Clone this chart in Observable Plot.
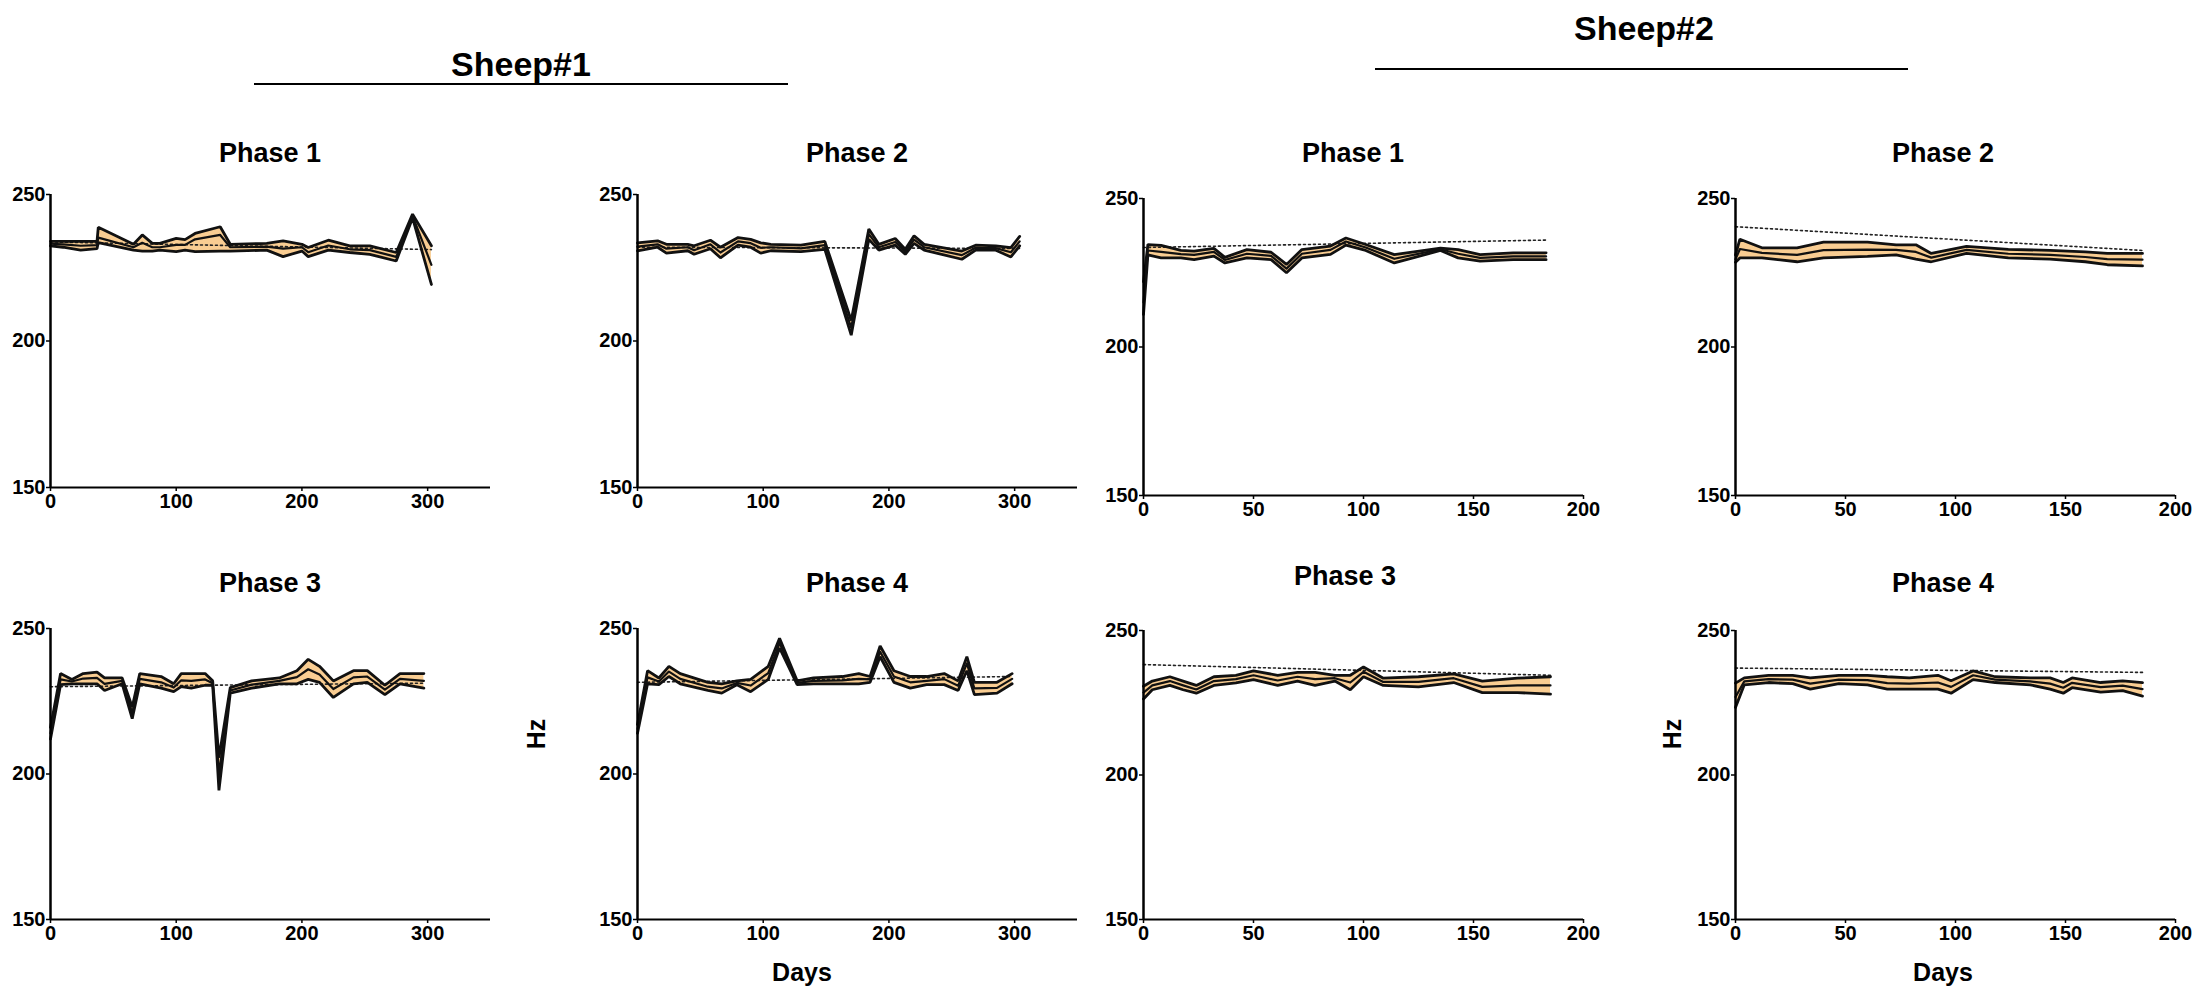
<!DOCTYPE html>
<html>
<head>
<meta charset="utf-8">
<script src="https://cdn.jsdelivr.net/npm/d3@7"></script>
<script src="https://cdn.jsdelivr.net/npm/@observablehq/plot@0.6"></script>
<style>
  html, body { margin: 0; padding: 0; background: #fff; }
  #root { position: relative; width: 2200px; height: 999px; overflow: hidden; font-family: "Liberation Sans", Arial, sans-serif; font-weight: bold; color: #000; }
  .lbl { position: absolute; white-space: nowrap; transform: translate(-50%, -50%); line-height: 1; }
  .hline { position: absolute; height: 2px; background: #000; }
  .panel { position: absolute; }
</style>
</head>
<body>
<div id="root"></div>
<script>
// ---------- DATA ----------
const sheep1Ticks = [0, 100, 200, 300];
const sheep2Ticks = [0, 50, 100, 150, 200];
const yTicks = [150, 200, 250];

// Sheep#1 Phase 1
const s1p1Days = [0, 10, 24, 37, 38, 66, 73, 81, 87, 100, 107, 115, 135, 143, 172, 185, 200, 205, 221, 238, 254, 275, 288, 303];
const s1p1Hi   = [234, 234, 234, 234, 238.8, 233, 236.2, 233.3, 233.3, 235, 234.6, 236.7, 239, 233, 233.3, 234.2, 233, 231.9, 234.4, 232.5, 232.5, 230.2, 243.3, 232.5];
const s1p1Mid  = [233.2, 233, 232.5, 232.7, 235.3, 232, 233.5, 232, 232, 232.8, 232.8, 234.7, 236.2, 232, 232.2, 231.5, 232, 230.3, 232.6, 231.3, 231, 228.7, 242.7, 226];
const s1p1Lo   = [232.5, 232, 231, 231.5, 233.6, 231, 230.7, 230.7, 231, 230.5, 231, 230.5, 230.7, 230.7, 231, 228.8, 230.7, 228.8, 231, 230.2, 229.6, 227.3, 242, 219.3];
const s1p1TrendDays = [0, 303];
const s1p1Trend = [233.8, 231.2];

// Sheep#1 Phase 2
const s1p2Days = [0, 16, 23, 40, 45, 58, 66, 80, 90, 98, 106, 130, 149, 170, 184, 192, 205, 213, 220, 228, 258, 269, 285, 297, 304];
const s1p2Hi   = [233.5, 234.2, 233, 233, 232.5, 234.4, 232, 235.3, 234.7, 233.5, 233, 232.7, 234, 207, 238.2, 233, 235, 231.3, 235.9, 233, 230.7, 232.7, 232.5, 231.9, 235.7];
const s1p2Mid  = [232.2, 233, 231.5, 232, 231, 233, 230.2, 234, 233.4, 231.8, 232, 231.6, 232.7, 204.5, 236.5, 232, 233.8, 230.5, 234.6, 232, 229.3, 231.8, 231.7, 230.3, 234];
const s1p2Lo   = [230.8, 232, 230, 230.8, 229.6, 231.5, 228.4, 232.7, 232, 230, 230.8, 230.5, 231.3, 202, 234.7, 231, 232.7, 229.6, 233.3, 231, 227.9, 231, 231, 228.7, 232.5];
const s1p2TrendDays = [0, 304];
const s1p2Trend = [232, 231.6];

// Sheep#1 Phase 3
const s1p3Days = [0, 8, 17, 26, 37, 43, 57, 65, 71, 88, 98, 104, 112, 123, 129, 134, 143, 160, 182, 196, 205, 214, 225, 241, 252, 266, 278, 297];
const s1p3Hi   = [216, 234.5, 232.5, 234.5, 235, 233, 233, 223, 234.5, 233.5, 231, 234.5, 234.5, 234.5, 232, 205.6, 229.7, 232, 233, 235.5, 239.4, 237, 232, 235.5, 235.5, 230.5, 234.5, 234.5];
const s1p3Mid  = [214, 232.5, 231.8, 232.8, 233, 231, 232, 221, 232.7, 231.5, 229.7, 232.2, 232, 232.5, 231.2, 200, 228.7, 230.7, 232, 233.3, 236, 234.2, 229.2, 233.2, 233.5, 229, 232.7, 232];
const s1p3Lo   = [212, 230.7, 231, 231, 231, 228.7, 231, 219, 231, 229.5, 228.3, 230, 229.5, 230.5, 230.5, 194.4, 227.8, 229.5, 231, 231, 232.5, 231.5, 226.3, 231, 231.5, 227.3, 231, 229.5];
const s1p3TrendDays = [0, 297];
const s1p3Trend = [230, 231.2];

// Sheep#1 Phase 4
const s1p4Days = [0, 8, 17, 25, 34, 56, 67, 79, 90, 104, 113, 127, 140, 163, 176, 185, 193, 204, 217, 230, 244, 255, 262, 268, 286, 298];
const s1p4Hi   = [217, 235.5, 233, 237, 234.5, 231.5, 231, 232, 232.5, 237, 246.6, 232, 233, 233.5, 234.5, 233.5, 244, 235.5, 233.5, 233.5, 234.5, 232, 240.3, 231.5, 231.5, 234.5];
const s1p4Mid  = [215.5, 233.2, 231.8, 235.2, 232.7, 230, 229.4, 231.3, 230.4, 234.7, 245, 231.3, 232, 232.2, 232.7, 232.5, 242, 233.5, 231.5, 232, 232.6, 230.3, 238, 229.4, 229.6, 232.7];
const s1p4Lo   = [214, 231, 230.7, 233.5, 231, 228.7, 227.8, 230.7, 228.3, 232.5, 243.3, 230.7, 231, 231, 231, 231.5, 240.3, 231.5, 229.5, 230.7, 230.7, 228.7, 235.5, 227.3, 227.8, 231];
const s1p4TrendDays = [0, 298];
const s1p4Trend = [231.5, 233.5];

// Sheep#2 Phase 1
const s2p1Days = [0, 2, 8, 17, 23, 32, 37, 47, 58, 65, 72, 85, 92, 101, 114, 135, 143, 153, 168, 183];
const s2p1Hi   = [222, 234.5, 234.2, 232.5, 232.3, 233.2, 230.2, 232.8, 231.9, 227.8, 232.8, 234, 236.7, 234.5, 231.1, 233.3, 232.8, 231.1, 231.7, 231.7];
const s2p1Mid  = [215, 232.5, 232, 231.3, 231, 232, 229.3, 231.4, 230.7, 226.4, 231.4, 232.7, 235.5, 233.5, 229.7, 232.9, 231.4, 230, 230.5, 230.5];
const s2p1Lo   = [211, 231, 230, 230, 229.4, 230.6, 228.3, 230, 229.4, 225, 230, 231.2, 234.3, 232.5, 228.3, 232.5, 230, 228.9, 229.4, 229.4];
const s2p1TrendDays = [0, 183];
const s2p1Trend = [233.5, 236];

// Sheep#2 Phase 2
const s2p2Days = [0, 2, 12, 28, 40, 60, 73, 82, 89, 105, 124, 143, 159, 169, 185];
const s2p2Hi   = [231, 236.3, 233.4, 233.4, 235.3, 235.3, 234.4, 234.4, 231.5, 233.9, 232.9, 232.5, 232, 231.5, 231.5];
const s2p2Mid  = [229.5, 233, 231.7, 231, 232.6, 232.8, 232.7, 232, 230.1, 232.7, 231.4, 231, 230.3, 229.6, 229.4];
const s2p2Lo   = [228.5, 230, 230, 228.7, 230, 230.5, 231, 229.6, 228.7, 231.5, 230, 229.6, 228.7, 227.7, 227.3];
const s2p2TrendDays = [0, 185];
const s2p2Trend = [240.5, 232.5];

// Sheep#2 Phase 3
const s2p3Days = [0, 4, 12, 18, 24, 32, 42, 50, 61, 70, 78, 87, 94, 100, 109, 125, 141, 154, 170, 185];
const s2p3Hi   = [230.7, 232.5, 234, 232.5, 231, 234, 234.5, 236, 234.5, 235.5, 235.5, 234.5, 234.5, 237.4, 233.5, 234, 235, 232.5, 233.5, 234];
const s2p3Mid  = [228.5, 231, 232.5, 231, 229.6, 232.5, 233.2, 234.5, 232.7, 234, 233.2, 233.5, 232, 235.7, 232.2, 232.2, 233.5, 230.5, 231, 231];
const s2p3Lo   = [226.3, 229.5, 231, 229.5, 228.3, 231, 231.9, 233, 231, 232.5, 231, 232.5, 229.5, 234, 231, 230.5, 232, 228.5, 228.5, 228];
const s2p3TrendDays = [0, 185];
const s2p3Trend = [238.2, 234.5];

// Sheep#2 Phase 4
const s2p4Days = [0, 4, 15, 26, 34, 47, 60, 69, 79, 92, 98, 108, 118, 134, 143, 149, 153, 166, 176, 185];
const s2p4Hi   = [231.8, 233.6, 234.5, 234.5, 233.6, 234.5, 234.5, 234, 233.6, 234.5, 232.6, 236, 234, 233.6, 233.6, 232, 233.6, 232, 232.6, 232];
const s2p4Mid  = [227, 232.4, 233.2, 233, 231.6, 233, 232.8, 231.8, 231.6, 232, 230.5, 234.5, 233, 232.4, 231.6, 230.2, 231.9, 230.4, 230.9, 229.7];
const s2p4Lo   = [223.4, 231.2, 232, 231.6, 229.7, 231.6, 231.2, 229.7, 229.7, 229.7, 228.3, 233, 232, 231.2, 229.7, 228.3, 230.2, 228.7, 229.2, 227.3];
const s2p4TrendDays = [0, 185];
const s2p4Trend = [237, 235.5];

// ---------- LAYOUT ----------
const FILL = "#f9cd92";
const FONT = "'Liberation Sans', Arial, sans-serif";
const ML = 70, MR = 20, MT = 12, MB = 44, PW = 440;

const panels = [
  {title: "Phase 1", days: s1p1Days, hi: s1p1Hi, mid: s1p1Mid, lo: s1p1Lo, td: s1p1TrendDays, tv: s1p1Trend, xd: [0, 350], xt: sheep1Ticks, x0: 50, y0: 194, ph: 293, tx: 270, ty: 153},
  {title: "Phase 2", days: s1p2Days, hi: s1p2Hi, mid: s1p2Mid, lo: s1p2Lo, td: s1p2TrendDays, tv: s1p2Trend, xd: [0, 350], xt: sheep1Ticks, x0: 637, y0: 194, ph: 293, tx: 857, ty: 153},
  {title: "Phase 1", days: s2p1Days, hi: s2p1Hi, mid: s2p1Mid, lo: s2p1Lo, td: s2p1TrendDays, tv: s2p1Trend, xd: [0, 200], xt: sheep2Ticks, x0: 1143, y0: 198, ph: 297, tx: 1353, ty: 153},
  {title: "Phase 2", days: s2p2Days, hi: s2p2Hi, mid: s2p2Mid, lo: s2p2Lo, td: s2p2TrendDays, tv: s2p2Trend, xd: [0, 200], xt: sheep2Ticks, x0: 1735, y0: 198, ph: 297, tx: 1943, ty: 153},
  {title: "Phase 3", days: s1p3Days, hi: s1p3Hi, mid: s1p3Mid, lo: s1p3Lo, td: s1p3TrendDays, tv: s1p3Trend, xd: [0, 350], xt: sheep1Ticks, x0: 50, y0: 628, ph: 291, tx: 270, ty: 583},
  {title: "Phase 4", days: s1p4Days, hi: s1p4Hi, mid: s1p4Mid, lo: s1p4Lo, td: s1p4TrendDays, tv: s1p4Trend, xd: [0, 350], xt: sheep1Ticks, x0: 637, y0: 628, ph: 291, tx: 857, ty: 583},
  {title: "Phase 3", days: s2p3Days, hi: s2p3Hi, mid: s2p3Mid, lo: s2p3Lo, td: s2p3TrendDays, tv: s2p3Trend, xd: [0, 200], xt: sheep2Ticks, x0: 1143, y0: 630, ph: 289, tx: 1345, ty: 576},
  {title: "Phase 4", days: s2p4Days, hi: s2p4Hi, mid: s2p4Mid, lo: s2p4Lo, td: s2p4TrendDays, tv: s2p4Trend, xd: [0, 200], xt: sheep2Ticks, x0: 1735, y0: 630, ph: 289, tx: 1943, ty: 583}
];

const root = document.getElementById("root");

function addLabel(text, x, y, size, rotate) {
  const d = document.createElement("div");
  d.className = "lbl";
  d.textContent = text;
  d.style.left = x + "px";
  d.style.top = y + "px";
  d.style.fontSize = size + "px";
  if (rotate) d.style.transform = "translate(-50%, -50%) rotate(-90deg)";
  root.appendChild(d);
}
function addLine(x1, x2, y) {
  const d = document.createElement("div");
  d.className = "hline";
  d.style.left = x1 + "px";
  d.style.width = (x2 - x1) + "px";
  d.style.top = (y - 1) + "px";
  root.appendChild(d);
}

function makePanel(p) {
  const rows = p.days.map((d, i) => ({day: d, hi: p.hi[i], mid: p.mid[i], lo: p.lo[i]}));
  const trend = p.td.map((d, i) => ({day: d, v: p.tv[i]}));
  const chart = Plot.plot({
    width: ML + PW + MR,
    height: MT + p.ph + MB,
    marginLeft: ML, marginRight: MR, marginTop: MT, marginBottom: MB,
    x: {domain: p.xd},
    y: {domain: [150, 250]},
    style: {font: `bold 20px ${FONT}`, color: "#000", background: "transparent", overflow: "visible"},
    marks: [
      Plot.areaY(rows, {x: "day", y1: "lo", y2: "hi", fill: FILL}),
      Plot.line(trend, {x: "day", y: "v", stroke: "#222", strokeWidth: 1.6, strokeDasharray: "2,3"}),
      Plot.line(rows, {x: "day", y: "hi", stroke: "#111", strokeWidth: 2.8, strokeLinejoin: "miter"}),
      Plot.line(rows, {x: "day", y: "lo", stroke: "#111", strokeWidth: 2.8, strokeLinejoin: "miter"}),
      Plot.line(rows, {x: "day", y: "mid", stroke: "#111", strokeWidth: 2.2}),
      Plot.ruleY([150], {stroke: "#000", strokeWidth: 2}),
      Plot.ruleX([0], {stroke: "#000", strokeWidth: 2.5}),
      Plot.axisX({ticks: p.xt, tickSize: 4, tickPadding: 2, tickFormat: d => String(d), label: null, strokeWidth: 1.5}),
      Plot.axisY({ticks: yTicks, tickSize: 4, tickPadding: 1, tickFormat: d => String(d), label: null, strokeWidth: 1.5})
    ]
  });
  chart.classList.add("panel");
  chart.style.position = "absolute";
  chart.style.left = (p.x0 - ML) + "px";
  chart.style.top = (p.y0 - MT) + "px";
  root.appendChild(chart);
  addLabel(p.title, p.tx, p.ty, 27);
}

panels.forEach(makePanel);

// Group titles and underlines
addLabel("Sheep#1", 521, 64, 34);
addLine(254, 788, 84);
addLabel("Sheep#2", 1644, 28, 34);
addLine(1375, 1908, 69);

// Axis titles
addLabel("Days", 802, 972, 25);
addLabel("Days", 1943, 972, 25);
addLabel("Hz", 536, 734, 25, true);
addLabel("Hz", 1672, 734, 25, true);
</script>
</body>
</html>
